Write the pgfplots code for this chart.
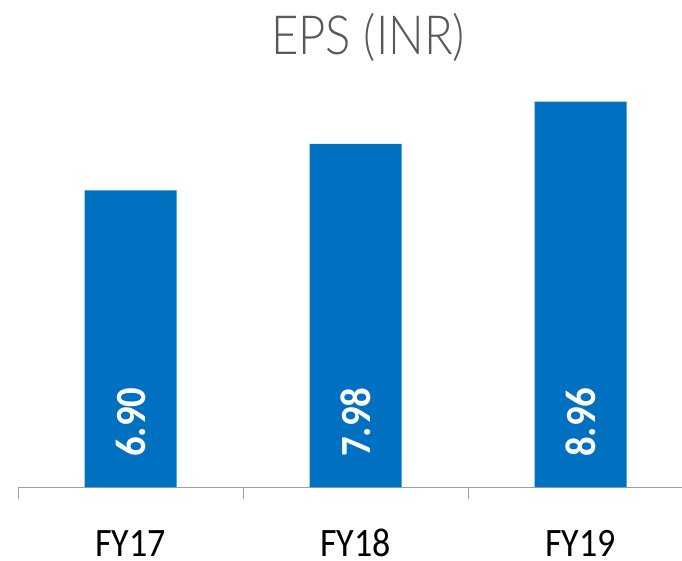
\documentclass[border=0pt]{standalone}
\usepackage{fontspec}
\setmainfont{Carlito}
\newfontfamily\titlefont{Lato Light}
\usepackage{pgfplots}
\pgfplotsset{compat=1.18}
\definecolor{barblue}{RGB}{0,112,192}
\definecolor{axgray}{RGB}{160,160,160}
\definecolor{titlegray}{RGB}{89,89,89}
\begin{document}
\begin{tikzpicture}[x=1pt,y=1pt]
\useasboundingbox (0,0) rectangle (682,560);
\clip (0,0) rectangle (682,560);
\node[anchor=base, font=\titlefont\fontsize{54}{60}\selectfont, text=titlegray, inner sep=0] at (368,505) {\scalebox{0.875}[1]{EPS (INR)}};
\begin{axis}[
  at={(18pt,73pt)}, anchor=south west,
  scale only axis, width=675pt, height=430pt,
  xmin=-0.5, xmax=2.5, ymin=0, ymax=10,
  axis x line=bottom, axis y line=none,
  x axis line style={axgray, line width=1pt, -},
  xtick={0,1,2},
  xticklabels={\scalebox{1}[1.12]{FY17},\scalebox{1}[1.12]{FY18},\scalebox{1}[1.12]{FY19}},
  major tick length=0pt,
  minor xtick={-0.5,0.5,1.5,2.5}, minor tick length=12pt,
  tick align=outside,
  every tick/.style={axgray, line width=1pt},
  minor tick style={axgray, line width=1pt},
  xticklabel style={font=\fontsize{36}{40}\selectfont, anchor=base, inner sep=0pt, yshift=-69pt, text=black},
  clip=false,
]
\addplot[ybar, bar width=92pt, fill=barblue, draw=none] coordinates {(0,6.90) (1,7.98) (2,8.96)};
\addplot[draw=none, mark=none, nodes near coords={\scalebox{0.9}[1]{\pgfplotspointmeta}}, point meta=explicit symbolic,
  nodes near coords style={rotate=90, anchor=center, font=\bfseries\fontsize{43}{46}\selectfont, text=white}]
  coordinates {(0,1.51) [6.90] (1,1.51) [7.98] (2,1.51) [8.96]};
\end{axis}
\end{tikzpicture}
\end{document}
